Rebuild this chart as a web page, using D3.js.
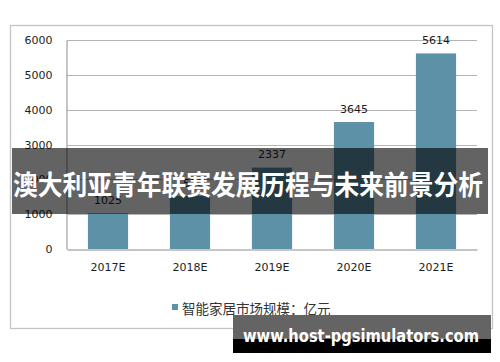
<!DOCTYPE html>
<html>
<head>
<meta charset="utf-8">
<script src="https://cdn.jsdelivr.net/npm/d3@7"></script>
<style>
  html, body { margin: 0; padding: 0; background: #fff; }
  svg { display: block; }
</style>
</head>
<body>
<div id="hook-chart"></div>
<script>
'use strict';

var categories = ['2017E', '2018E', '2019E', '2020E', '2021E'];
var values = [1025, 1520, 2337, 3645, 5614];
var yTicks = [0, 1000, 2000, 3000, 4000, 5000, 6000];
var legendLabel = '智能家居市场规模：亿元';
var bannerTitle = '澳大利亚青年联赛发展历程与未来前景分析';
var siteText = 'www.host-pgsimulators.com';

(function() {

var width = 500, height = 362;
var plot = { left: 67, right: 477, top: 40, bottom: 249 };
var barColor = '#5d91a7';
var font = '"DejaVu Sans", Verdana, sans-serif';

var svg = d3.select('#hook-chart')
  .append('svg')
  .attr('width', width)
  .attr('height', height);

// chart frame
svg.append('rect')
  .attr('x', 10.5).attr('y', 25.5)
  .attr('width', 482).attr('height', 303)
  .style('fill', '#fff')
  .style('stroke', '#c4c4c4')
  .style('stroke-width', 1.3);

var x = d3.scaleBand()
  .domain(categories)
  .range([plot.left, plot.right])
  .paddingInner(0.51)
  .paddingOuter(0.255);

var y = d3.scaleLinear()
  .domain([0, 6000])
  .range([plot.bottom, plot.top]);

// gridlines
svg.append('g')
  .selectAll('line')
  .data(yTicks.filter(function(d) { return d > 0; }))
  .enter().append('line')
  .attr('x1', plot.left).attr('x2', plot.right)
  .attr('y1', function(d) { return Math.round(y(d)) + 0.5; })
  .attr('y2', function(d) { return Math.round(y(d)) + 0.5; })
  .style('stroke', '#b5b5b5')
  .style('stroke-width', 1);

// y axis
var yAxis = svg.append('g')
  .attr('transform', 'translate(' + (plot.left - 0.5) + ',0)')
  .call(d3.axisLeft(y).tickValues(yTicks).tickFormat(d3.format('d')).tickSize(0).tickPadding(14));
yAxis.select('.domain').style('stroke', '#8c8c8c');
yAxis.selectAll('text')
  .style('font-family', font)
  .style('font-size', '11px')
  .style('fill', '#1e1e1e');

// bars
svg.append('g')
  .selectAll('rect')
  .data(values)
  .enter().append('rect')
  .attr('x', function(d, i) { return x(categories[i]); })
  .attr('y', function(d) { return y(d); })
  .attr('width', x.bandwidth())
  .attr('height', function(d) { return plot.bottom - y(d); })
  .style('fill', barColor);

// value labels
svg.append('g')
  .selectAll('text')
  .data(values)
  .enter().append('text')
  .attr('x', function(d, i) { return x(categories[i]) + x.bandwidth() / 2; })
  .attr('y', function(d) { return y(d) - 9.5; })
  .attr('text-anchor', 'middle')
  .style('font-family', font)
  .style('font-size', '11px')
  .style('fill', '#1e1e1e')
  .text(function(d) { return d; });

// x axis
var xAxis = svg.append('g')
  .attr('transform', 'translate(0,' + (plot.bottom + 0.5) + ')')
  .call(d3.axisBottom(x).tickSize(0).tickPadding(14));
xAxis.select('.domain').style('stroke', '#8c8c8c');
xAxis.selectAll('text')
  .style('font-family', font)
  .style('font-size', '11px')
  .style('fill', '#1e1e1e');

// legend
var legend = svg.append('g').attr('transform', 'translate(172,304)');
legend.append('rect')
  .attr('width', 6).attr('height', 6)
  .style('fill', barColor);
legend.append('text')
  .attr('x', 10).attr('y', 10)
  .style('font-family', '"Noto Sans CJK SC", sans-serif')
  .style('font-size', '13.5px')
  .style('fill', '#333')
  .text(legendLabel);

// title banner overlay
svg.append('rect')
  .attr('x', 12).attr('y', 148)
  .attr('width', 476).attr('height', 66)
  .style('fill', 'rgba(0,0,0,0.61)');
svg.append('text')
  .attr('x', 13).attr('y', 195)
  .attr('textLength', 470)
  .attr('lengthAdjust', 'spacingAndGlyphs')
  .style('font-family', '"Noto Sans CJK SC", sans-serif')
  .style('font-weight', 'bold')
  .style('font-size', '27px')
  .style('fill', '#fff')
  .text(bannerTitle);

// site watermark
svg.append('rect')
  .attr('x', 233).attr('y', 315)
  .attr('width', 258).attr('height', 24)
  .style('fill', '#646464');
svg.append('rect')
  .attr('x', 233).attr('y', 339)
  .attr('width', 258).attr('height', 14)
  .style('fill', '#000');
svg.append('text')
  .attr('x', 243).attr('y', 342)
  .attr('textLength', 236)
  .attr('lengthAdjust', 'spacingAndGlyphs')
  .style('font-family', font)
  .style('font-weight', 'bold')
  .style('font-size', '17px')
  .style('fill', '#fff')
  .text(siteText);

}());
</script>
</body>
</html>
